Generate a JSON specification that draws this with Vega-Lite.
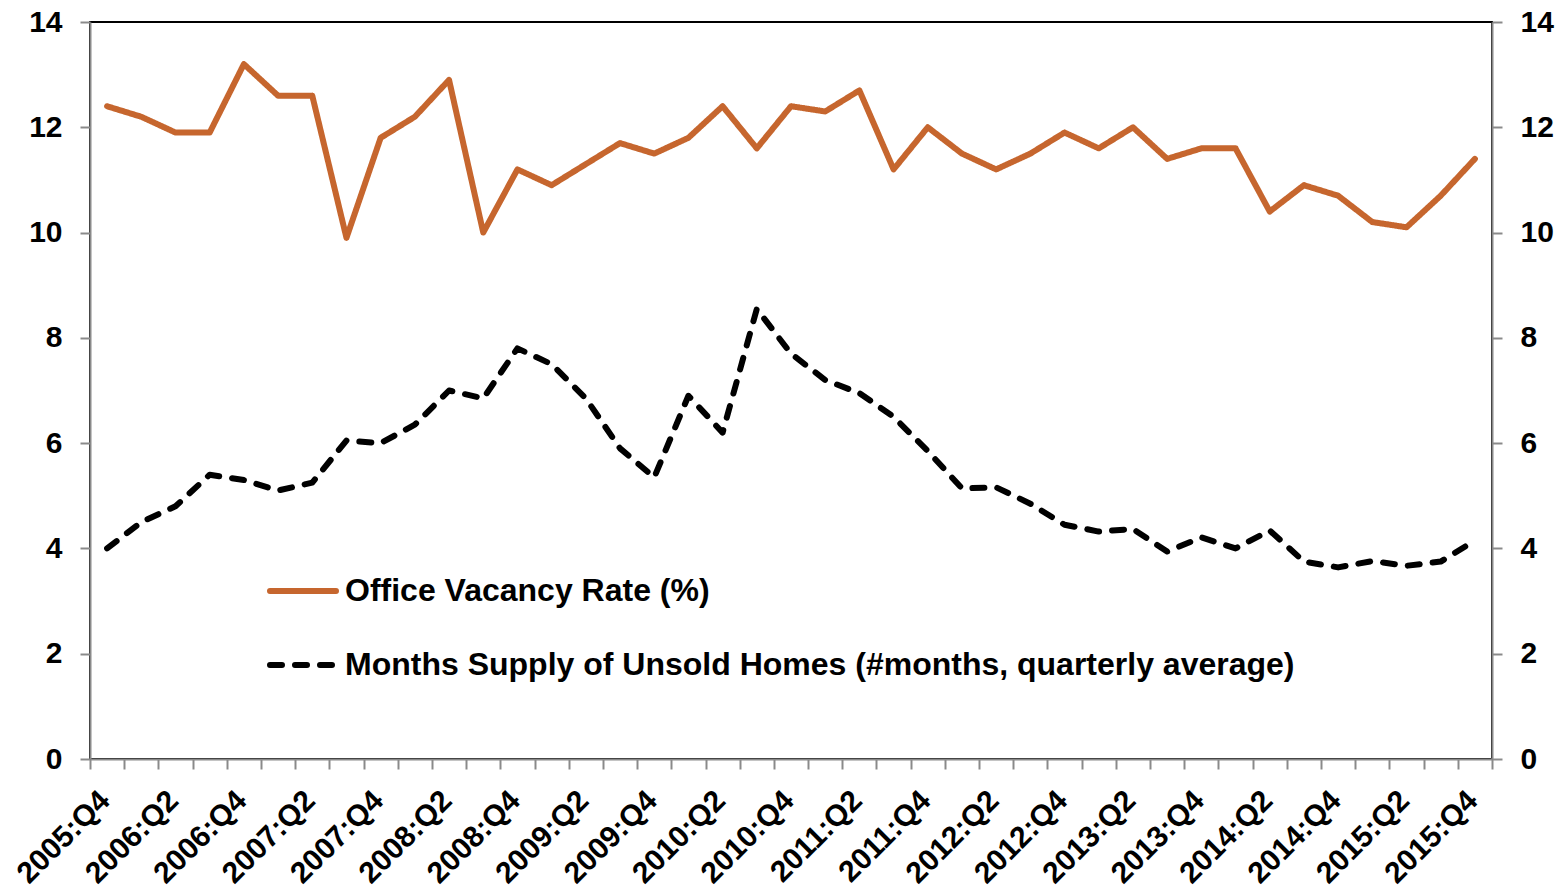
{
  "$schema": "https://vega.github.io/schema/vega-lite/v6.json",
  "width": 1402,
  "height": 737,
  "autosize": "none",
  "padding": {"left": 90, "top": 22, "right": 68, "bottom": 134},
  "background": "white",
  "config": {"view": {"stroke": "black", "strokeWidth": 2}, "font": "Liberation Sans"},
  "data": {"values": [
    {"q": "2005:Q4", "office": 12.4, "months": 4.0},
    {"q": "2006:Q1", "office": 12.2, "months": 4.5},
    {"q": "2006:Q2", "office": 11.9, "months": 4.8},
    {"q": "2006:Q3", "office": 11.9, "months": 5.4},
    {"q": "2006:Q4", "office": 13.2, "months": 5.3},
    {"q": "2007:Q1", "office": 12.6, "months": 5.1},
    {"q": "2007:Q2", "office": 12.6, "months": 5.25},
    {"q": "2007:Q3", "office": 9.9, "months": 6.05},
    {"q": "2007:Q4", "office": 11.8, "months": 6.0},
    {"q": "2008:Q1", "office": 12.2, "months": 6.35},
    {"q": "2008:Q2", "office": 12.9, "months": 7.0},
    {"q": "2008:Q3", "office": 10.0, "months": 6.85},
    {"q": "2008:Q4", "office": 11.2, "months": 7.8},
    {"q": "2009:Q1", "office": 10.9, "months": 7.5},
    {"q": "2009:Q2", "office": 11.3, "months": 6.85},
    {"q": "2009:Q3", "office": 11.7, "months": 5.9},
    {"q": "2009:Q4", "office": 11.5, "months": 5.35},
    {"q": "2010:Q1", "office": 11.8, "months": 6.9},
    {"q": "2010:Q2", "office": 12.4, "months": 6.2},
    {"q": "2010:Q3", "office": 11.6, "months": 8.55},
    {"q": "2010:Q4", "office": 12.4, "months": 7.7},
    {"q": "2011:Q1", "office": 12.3, "months": 7.2},
    {"q": "2011:Q2", "office": 12.7, "months": 6.95},
    {"q": "2011:Q3", "office": 11.2, "months": 6.5},
    {"q": "2011:Q4", "office": 12.0, "months": 5.85},
    {"q": "2012:Q1", "office": 11.5, "months": 5.14},
    {"q": "2012:Q2", "office": 11.2, "months": 5.16},
    {"q": "2012:Q3", "office": 11.5, "months": 4.85},
    {"q": "2012:Q4", "office": 11.9, "months": 4.45},
    {"q": "2013:Q1", "office": 11.6, "months": 4.32},
    {"q": "2013:Q2", "office": 12.0, "months": 4.37},
    {"q": "2013:Q3", "office": 11.4, "months": 3.94},
    {"q": "2013:Q4", "office": 11.6, "months": 4.21},
    {"q": "2014:Q1", "office": 11.6, "months": 4.0},
    {"q": "2014:Q2", "office": 10.4, "months": 4.34},
    {"q": "2014:Q3", "office": 10.9, "months": 3.75},
    {"q": "2014:Q4", "office": 10.7, "months": 3.64},
    {"q": "2015:Q1", "office": 10.2, "months": 3.76},
    {"q": "2015:Q2", "office": 10.1, "months": 3.67},
    {"q": "2015:Q3", "office": 10.7, "months": 3.75},
    {"q": "2015:Q4", "office": 11.4, "months": 4.15}
  ]},
  "transform": [{"fold": ["office", "months"], "as": ["series", "value"]}],
  "encoding": {
    "x": {
      "field": "q", "type": "ordinal", "sort": null,
      "scale": {"type": "band", "paddingInner": 0, "paddingOuter": 0},
      "axis": {
        "orient": "bottom", "title": null, "tickBand": "extent",
        "domainColor": "#8a8a8a", "domainWidth": 2, "tickColor": "#8a8a8a", "tickWidth": 2, "tickSize": 10,
        "labelAngle": -45, "labelFontSize": 30, "labelFontWeight": "bold", "labelColor": "black",
        "labelFont": "Liberation Sans", "labelOverlap": false, "labelPadding": 16, "labelOffset": -13,
        "labelExpr": "(indexof(datum.label + '', 'Q2') >= 0 || indexof(datum.label + '', 'Q4') >= 0) ? datum.label : ''",
        "grid": false
      }
    }
  },
  "layer": [
    {
      "mark": {"type": "line", "strokeWidth": 6, "strokeCap": "round", "strokeJoin": "round"},
      "encoding": {
        "y": {
          "field": "value", "type": "quantitative",
          "scale": {"domain": [0, 14], "nice": false, "zero": true},
          "axis": {
            "orient": "left", "title": null, "values": [0, 2, 4, 6, 8, 10, 12, 14],
            "domainColor": "#8a8a8a", "domainWidth": 2, "tickColor": "#8a8a8a", "tickWidth": 2, "tickSize": 10,
            "labelFontSize": 30, "labelFontWeight": "bold", "labelColor": "black", "labelFont": "Liberation Sans",
            "labelPadding": 18, "grid": false
          }
        },
        "color": {
          "field": "series", "type": "nominal",
          "scale": {"domain": ["office", "months"], "range": ["#C6662E", "#000000"]},
          "legend": {
            "orient": "none", "legendX": 177, "legendY": 533, "title": null, "padding": 0,
            "symbolType": "stroke", "symbolSize": 4356, "symbolStrokeWidth": 6,
            "labelFontSize": 32, "labelFontWeight": "bold", "labelColor": "black", "labelFont": "Liberation Sans",
            "labelLimit": 0, "labelOffset": 6, "rowPadding": 22,
            "labelExpr": "datum.label == 'office' ? 'Office Vacancy Rate (%)' : 'Months Supply of Unsold Homes (#months, quarterly average)'",
            "encoding": {"symbols": {"strokeCap": {"value": "round"}}}
          }
        },
        "strokeDash": {
          "field": "series", "type": "nominal",
          "scale": {"domain": ["office", "months"], "range": [[1, 0], [12, 13]]},
          "legend": {
            "orient": "none", "legendX": 177, "legendY": 533, "title": null, "padding": 0,
            "symbolType": "stroke", "symbolSize": 4356, "symbolStrokeWidth": 6,
            "labelFontSize": 32, "labelFontWeight": "bold", "labelColor": "black", "labelFont": "Liberation Sans",
            "labelLimit": 0, "labelOffset": 6, "rowPadding": 22,
            "labelExpr": "datum.label == 'office' ? 'Office Vacancy Rate (%)' : 'Months Supply of Unsold Homes (#months, quarterly average)'",
            "encoding": {"symbols": {"strokeCap": {"value": "round"}}}
          }
        }
      }
    },
    {
      "mark": {"type": "line", "opacity": 0},
      "encoding": {
        "y": {
          "field": "value", "type": "quantitative",
          "scale": {"domain": [0, 14], "nice": false, "zero": true},
          "axis": {
            "orient": "right", "title": null, "values": [0, 2, 4, 6, 8, 10, 12, 14],
            "domainColor": "#8a8a8a", "domainWidth": 2, "tickColor": "#8a8a8a", "tickWidth": 2, "tickSize": 10,
            "labelFontSize": 30, "labelFontWeight": "bold", "labelColor": "black", "labelFont": "Liberation Sans",
            "labelPadding": 18, "grid": false
          }
        },
        "detail": {"field": "series", "type": "nominal"}
      }
    }
  ],
  "resolve": {"scale": {"y": "independent"}}
}
